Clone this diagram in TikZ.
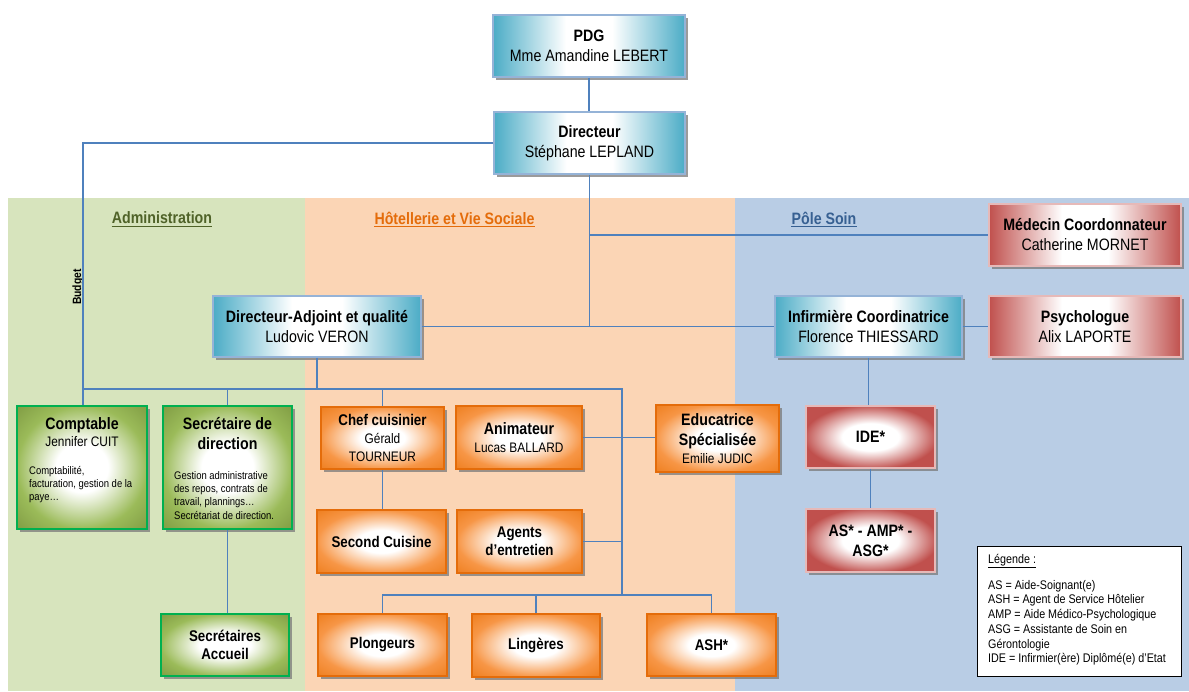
\documentclass[tikz,border=0pt]{standalone}
\usepackage{fontspec}
\setmainfont{Liberation Sans}[FakeStretch=0.86]
\usetikzlibrary{shadows}
\definecolor{greenpanel}{HTML}{D7E4BD}
\definecolor{orangepanel}{HTML}{FBD5B5}
\definecolor{bluepanel}{HTML}{B9CDE5}
\definecolor{linkc}{HTML}{4F81BD}
\definecolor{adminc}{HTML}{4F6228}
\definecolor{hotelc}{HTML}{E46C0A}
\definecolor{soinc}{HTML}{376092}
\definecolor{bteal}{HTML}{4BACC6}
\definecolor{bluebord}{HTML}{95B3D7}
\definecolor{gshade}{HTML}{9BBB59}
\definecolor{gshadedk}{HTML}{7F9B43}
\definecolor{gbord}{HTML}{00B050}
\definecolor{oshade}{HTML}{F79646}
\definecolor{oshadedk}{HTML}{EE7E1E}
\definecolor{obord}{HTML}{E46C0A}
\definecolor{rshade}{HTML}{C0504D}
\definecolor{rbord}{HTML}{E6B9B8}
\definecolor{shadowc}{HTML}{7A7A7A}
\pgfdeclarehorizontalshading{bluegrad}{100bp}{color(0bp)=(bteal); color(25bp)=(bteal); color(44bp)=(white); color(56bp)=(white); color(75bp)=(bteal); color(100bp)=(bteal)}
\pgfdeclarehorizontalshading{redgrad}{100bp}{color(0bp)=(rshade); color(25bp)=(rshade); color(44bp)=(white); color(56bp)=(white); color(75bp)=(rshade); color(100bp)=(rshade)}
\pgfdeclareradialshading{greenglow}{\pgfpoint{0bp}{0bp}}{color(0bp)=(white); color(10bp)=(white); color(25bp)=(gshade); color(36bp)=(gshadedk); color(50bp)=(gshadedk)}
\pgfdeclareradialshading{orangeglow}{\pgfpoint{0bp}{0bp}}{color(0bp)=(white); color(9bp)=(white); color(25bp)=(oshade); color(36bp)=(oshadedk); color(50bp)=(oshadedk)}
\pgfdeclareradialshading{redglow}{\pgfpoint{0bp}{0bp}}{color(0bp)=(white); color(11bp)=(white); color(26bp)=(rshade); color(36bp)=(rshade); color(50bp)=(rshade)}
\newcommand\fBig{\fontsize{16.5}{20}\selectfont}
\newcommand\fMid{\fontsize{15.5}{18}\selectfont}
\newcommand\fSub{\fontsize{13.8}{17}\selectfont}
\newcommand\fDesc{\fontsize{11}{13.3}\selectfont}
\newcommand\fLeg{\fontsize{12.5}{14.7}\selectfont}
\tikzset{
  orgbox/.style={shade, line width=1.5pt, inner sep=1pt, align=center, font=\fBig,
    drop shadow={shadow xshift=3pt, shadow yshift=-3pt, fill=shadowc, opacity=0.75}},
  bluebox/.style={orgbox, draw=bluebord, shading=bluegrad},
  greenbox/.style={orgbox, draw=gbord, shading=greenglow},
  orangebox/.style={orgbox, draw=obord, shading=orangeglow},
  redbox/.style={orgbox, draw=rbord, shading=redglow},
  redhbox/.style={orgbox, draw=rbord, shading=redgrad},
  link/.style={draw=linkc, line width=1.1pt},
  paneltitle/.style={inner sep=0pt, font=\fBig\bfseries},
  plaintext/.style={inner sep=0pt, align=left},
}
\begin{document}
\begin{tikzpicture}[x=1pt,y=-1pt]
\useasboundingbox (0,0) rectangle (1189,691);
\fill[white] (0,0) rectangle (1189,691);
% panels
\fill[greenpanel] (8,198) rectangle (305,691);
\fill[orangepanel] (305,198) rectangle (735,691);
\fill[bluepanel] (735,198) rectangle (1189,691);
% panel titles
\node[paneltitle, text=adminc] (tadmin) at (162,218) {Administration};
\draw[adminc, line width=1.5pt] ([yshift=-2.5pt]tadmin.base west) -- ([yshift=-2.5pt]tadmin.base east);
\node[paneltitle, text=hotelc] (thotel) at (454.5,218) {Hôtellerie et Vie Sociale};
\draw[hotelc, line width=1.5pt] ([yshift=-2.5pt]thotel.base west) -- ([yshift=-2.5pt]thotel.base east);
\node[paneltitle, text=soinc] (tsoin) at (824,218) {Pôle Soin};
\draw[soinc, line width=1.5pt] ([yshift=-2.5pt]tsoin.base west) -- ([yshift=-2.5pt]tsoin.base east);

% top boxes
\node[bluebox, minimum width=192pt, minimum height=62pt] (pdg) at (589,46) {\textbf{PDG}\\Mme Amandine LEBERT};
\node[bluebox, minimum width=191pt, minimum height=62pt] (dir) at (589.5,143) {\textbf{Directeur}\\Stéphane LEPLAND};
\node[bluebox, minimum width=208pt, minimum height=61pt] (adj) at (317,326.5) {\textbf{Directeur-Adjoint et qualité}\\Ludovic VERON};
\node[bluebox, minimum width=187pt, minimum height=61pt] (inf) at (868.5,326.5) {\textbf{Infirmière Coordinatrice}\\Florence THIESSARD};
\node[redhbox, minimum width=192pt, minimum height=61pt] (psy) at (1085,326.5) {\textbf{Psychologue}\\Alix LAPORTE};
\node[redhbox, minimum width=192pt, minimum height=62pt] (med) at (1085,235) {\textbf{Médecin Coordonnateur}\\Catherine MORNET};

% administration
\node[greenbox, minimum width=130pt, minimum height=123pt] (compt) at (82,467.5) {};
\node[plaintext, align=center, anchor=north, font=\fBig] (comptT) at (82,417) {\textbf{Comptable}\\[-3pt]{\fSub Jennifer CUIT}};
\node[plaintext, font=\fDesc, anchor=north west] (comptD) at (29,466) {Comptabilité,\\facturation, gestion de la\\paye…};
\node[greenbox, minimum width=129pt, minimum height=123pt] (sec) at (227.5,467.5) {};
\node[plaintext, align=center, anchor=north, font=\fBig] (secT) at (227.5,417) {\textbf{Secrétaire de}\\\textbf{direction}};
\node[plaintext, font=\fDesc, anchor=north west] (secD) at (174,471) {Gestion administrative\\des repos, contrats de\\travail, plannings…\\Secrétariat de direction.};
\node[greenbox, minimum width=128pt, minimum height=62pt, font=\fMid\bfseries] (acc) at (225,645) {Secrétaires\\Accueil};

% hotellerie
\node[orangebox, minimum width=123pt, minimum height=62pt] (chef) at (382.5,438) {{\fMid\bfseries Chef cuisinier}\\[-2pt]{\fSub Gérald}\\[-2pt]{\fSub TOURNEUR}};
\node[orangebox, minimum width=126pt, minimum height=63pt] (anim) at (519,437.5) {\textbf{Animateur}\\[-2pt]{\fSub Lucas BALLARD}};
\node[orangebox, minimum width=129pt, minimum height=63pt, font=\fMid\bfseries] (second) at (381.5,541.5) {Second Cuisine};
\node[orangebox, minimum width=125pt, minimum height=63pt, font=\fMid\bfseries] (agents) at (519.5,541.5) {Agents\\d’entretien};
\node[orangebox, minimum width=129pt, minimum height=62pt, font=\fMid\bfseries] (plong) at (382.5,645) {Plongeurs};
\node[orangebox, minimum width=128pt, minimum height=63pt, font=\fMid\bfseries] (ling) at (536,645.5) {Lingères};
\node[orangebox, minimum width=129pt, minimum height=62pt, font=\fMid\bfseries] (ash) at (711.5,645) {ASH*};
\node[orangebox, minimum width=123pt, minimum height=67pt] (educ) at (717.5,438.5) {\textbf{Educatrice}\\\textbf{Spécialisée}\\[-2pt]{\fSub Emilie JUDIC}};

% soin
\node[redbox, minimum width=129pt, minimum height=62pt, font=\fBig\bfseries] (ide) at (870.5,437) {IDE*};
\node[redbox, minimum width=129pt, minimum height=63pt, font=\fBig\bfseries] (asb) at (870.5,540.5) {AS* - AMP* -\\ASG*};

% legend
\node[draw=black, line width=1pt, fill=white, minimum width=204pt, minimum height=130pt, inner sep=0pt] (leg) at (1079,611) {};
\node[plaintext, font=\fLeg, anchor=north west] (legT) at (988,554) {\underline{Légende :}};
\node[plaintext, font=\fLeg, anchor=north west] (legB) at (988,580) {AS = Aide-Soignant(e)\\ASH = Agent de Service Hôtelier\\AMP = Aide Médico-Psychologique\\ASG = Assistante de Soin en\\Gérontologie\\IDE = Infirmier(ère) Diplômé(e) d'Etat};

% budget label
\node[inner sep=0pt, font=\fontsize{12}{14}\selectfont\bfseries, rotate=90] (budget) at (78,287) {Budget};

% connectors
\coordinate (busL) at (83,389);
\coordinate (busR) at (622,389);
\coordinate (busB) at (622,595);
\draw[link] (pdg.south) -- (pdg.south |- dir.north);
\draw[link] (dir.west) -| (busL) -- (busL |- compt.north);
\draw[link] (busL) -- (busR) -- (busB);
\draw[link] (adj.south) -- (adj.south |- busL);
\draw[link] (sec.north |- busL) -- (sec.north);
\draw[link] (chef.north |- busL) -- (chef.north);
\draw[link] (chef.south) -- (chef.south |- second.north);
\draw[link] (sec.south) -- (sec.south |- acc.north);
\draw[link] (anim.east) -- (anim.east -| educ.west);
\draw[link] (agents.east) -- (agents.east -| busB);
\draw[link] (plong.north) -- (plong.north |- busB) -- (ash.north |- busB) -- (ash.north);
\draw[link] (ling.north) -- (ling.north |- busB);
\draw[link] (dir.south) -- (dir.south |- adj.east);
\draw[link] (adj.east) -- (inf.west);
\draw[link] (dir.south |- med.west) -- (med.west);
\draw[link] (inf.east) -- (psy.west);
\draw[link] (inf.south) -- (inf.south |- ide.north);
\draw[link] (ide.south) -- (ide.south |- asb.north);
\end{tikzpicture}
\end{document}
